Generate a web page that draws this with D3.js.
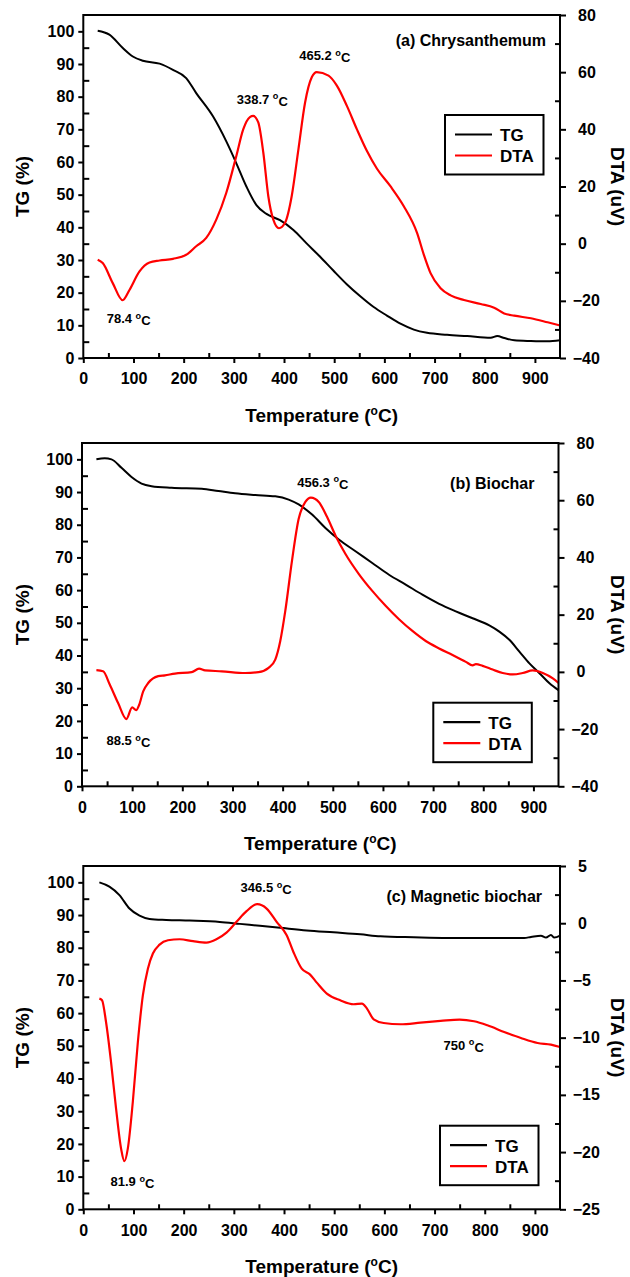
<!DOCTYPE html>
<html>
<head>
<meta charset="utf-8">
<script src="https://cdn.jsdelivr.net/npm/d3@7"></script>
<style>
  html, body { margin: 0; padding: 0; background: #fff; }
  svg { display: block; }
  text { font-family: "Liberation Sans", Arial, sans-serif; font-weight: bold; fill: #000; }
</style>
</head>
<body>
<svg id="chart" width="630" height="1277"></svg>
<script>
// ---- (a) Chrysanthemum ----
const chrysTempTG = [28.7, 52, 78.7, 98.7, 118.7, 152, 178.7, 205, 225, 258.7, 285, 305, 325, 345, 365, 392, 418.7, 445, 472, 498.7, 525, 552, 578.7, 605, 632, 658.7, 685, 725, 765, 812, 825, 839, 859, 892, 925, 950];
const chrysTG     = [100.2, 99, 94.9, 92.3, 91.0, 90.1, 88.2, 85.7, 81.1, 73.9, 66.3, 59.6, 52.5, 46.8, 44.1, 42.2, 39.2, 35.1, 31.0, 26.7, 22.6, 18.9, 15.6, 13.0, 10.5, 8.7, 7.7, 7.1, 6.7, 6.2, 6.7, 6.1, 5.4, 5.2, 5.1, 5.4];
const chrysTempDTA = [28.7, 38.7, 58.7, 78.4, 92, 112, 132, 152, 178.7, 205, 225, 245, 265, 285, 305, 318.7, 332, 338.7, 348.7, 358.7, 368.7, 378.7, 390, 402, 415.3, 428.7, 442, 455.3, 465.2, 488.7, 505.3, 525.3, 545.3, 565.3, 585.3, 612, 638.7, 665.3, 678.7, 692, 712, 732, 758.7, 792, 818.7, 838.7, 858.7, 892, 925.3, 950];
const chrysDTA     = [-5.6, -6.8, -13.8, -19.8, -16.2, -9.7, -6.6, -5.9, -5.3, -3.9, -0.9, 2.0, 8.4, 17.8, 30.7, 40.0, 44.3, 44.7, 42.4, 31.9, 16.6, 8.4, 5.4, 7.3, 16.6, 33.0, 49.4, 58.2, 60.0, 58.8, 55.3, 48.2, 40.0, 32.4, 26.2, 20.1, 13.1, 3.7, -3.9, -10.3, -15.6, -18.1, -19.7, -21.1, -22.4, -24.4, -25.2, -26.1, -27.5, -28.6];
const chrysPeaks = [78.4, 338.7, 465.2];

// ---- (b) Biochar ----
const biocharTempTG = [28.7, 45.3, 58.7, 78.7, 98.7, 118.7, 138.7, 178.7, 238.7, 272, 305.3, 345.3, 385.3, 412, 432, 458.7, 485.3, 512, 545.3, 578.7, 612, 645.3, 678.7, 712, 745.3, 778.7, 812, 832, 852, 872, 892, 912, 932, 950];
const biocharTG     = [100, 100.3, 100, 97.4, 94.6, 92.6, 91.8, 91.3, 91.0, 90.3, 89.6, 89.1, 88.7, 87.7, 86.2, 83.1, 79.0, 75.5, 71.9, 68.3, 64.7, 61.7, 58.6, 55.8, 53.5, 51.4, 49.2, 47.3, 44.8, 41.2, 37.6, 34.6, 31.5, 29.4];
const biocharTempDTA = [28.7, 42, 55.3, 72, 88.5, 100, 108, 114, 122, 132, 152, 165.3, 185.3, 218.7, 233.3, 245.3, 278.7, 325.3, 352, 372, 385.3, 395.3, 405.3, 418.7, 432, 445.3, 456.3, 472, 488.7, 505.3, 525.3, 552, 578.7, 605.3, 632, 658.7, 685.3, 712, 738.7, 765.3, 778.7, 785.3, 798.7, 818.7, 838.7, 858.7, 878.7, 898.7, 918.7, 938.7, 950];
const biocharDTA     = [0.6, 0.2, -4.4, -10.9, -16.5, -12.4, -13.4, -11.5, -6.8, -3.9, -1.5, -1.2, -0.6, -0.1, 1.1, 0.5, 0.2, -0.4, -0.1, 1.4, 4.3, 10.8, 21.3, 38.9, 53.5, 59.4, 60.9, 59.4, 54.1, 47.7, 41.2, 34.2, 28.3, 23.1, 18.4, 14.3, 10.8, 8.2, 5.9, 3.5, 2.3, 2.7, 2.1, 0.8, -0.4, -0.9, -0.4, 0.5, -0.4, -2.3, -3.9];
const biocharPeaks = [88.5, 456.3];

// ---- (c) Magnetic biochar ----
const magTempTG = [32, 52, 72, 92, 112, 132, 165.3, 212, 272, 312, 352, 392, 445.3, 498.7, 552, 592, 658.7, 725.3, 792, 878.7, 892, 912, 922, 932, 938.7, 950];
const magTG     = [100, 98.7, 96.1, 92.0, 89.8, 88.8, 88.5, 88.3, 87.9, 87.3, 86.7, 86.1, 85.3, 84.7, 84.1, 83.5, 83.2, 83.0, 83.0, 83.0, 83.3, 83.7, 83.1, 83.9, 83.1, 83.7];
const magTempDTA = [32, 37.3, 45.3, 55.3, 65.3, 75.3, 81.9, 88.7, 98.7, 108.7, 118.7, 128.7, 138.7, 152, 168.7, 192, 218.7, 245.3, 265.3, 285.3, 305.3, 325.3, 346.5, 365.3, 385.3, 405.3, 418.7, 435.3, 452, 465.3, 485.3, 512, 538.7, 555.3, 565.3, 578.7, 598.7, 632, 672, 712, 750, 778.7, 805.3, 838.7, 872, 905.3, 932, 950];
const magDTA     = [-6.59, -6.73, -8.63, -12.13, -16.2, -19.7, -20.8, -19.7, -15.6, -10.4, -6.3, -3.97, -2.65, -1.87, -1.49, -1.4, -1.57, -1.69, -1.4, -0.82, 0.12, 1.05, 1.66, 1.28, 0.12, -1.05, -2.51, -3.97, -4.49, -5.19, -6.15, -6.73, -7.08, -7.03, -7.46, -8.40, -8.72, -8.83, -8.69, -8.54, -8.42, -8.57, -8.92, -9.50, -10.03, -10.47, -10.61, -10.82];
const magPeaks = [81.9, 346.5, 750];

// Axis tick values
const tempTicks = [0, 100, 200, 300, 400, 500, 600, 700, 800, 900];
const tempMinor = [50, 150, 250, 350, 450, 550, 650, 750, 850];
const tgTicks = [0, 10, 20, 30, 40, 50, 60, 70, 80, 90, 100];
const tgMinor = [5, 15, 25, 35, 45, 55, 65, 75, 85, 95];
const dtaTicksWide = [-40, -20, 0, 20, 40, 60, 80];
const dtaMinorWide = [-30, -10, 10, 30, 50, 70];
const dtaTicksNarrow = [-25, -20, -15, -10, -5, 0, 5];
const dtaMinorNarrow = [-22.5, -17.5, -12.5, -7.5, -2.5, 2.5];

const zip = (xs, ys) => xs.map((x, i) => [x, ys[i]]);

const panels = [
  {
    title: "(a) Chrysanthemum",
    left: 83.3, right: 560, top: 15, bottom: 358,
    tg: zip(chrysTempTG, chrysTG), dta: zip(chrysTempDTA, chrysDTA),
    dtaDomain: [-40, 80], dtaTicks: dtaTicksWide, dtaMinor: dtaMinorWide,
    peaks: chrysPeaks, labelOffsets: [[6, 23], [9, -12], [8, -12]],
    titleDx: -14, titleDy: 31,
    legend: { x: 445, y: 115 }
  },
  {
    title: "(b) Biochar",
    left: 82, right: 558.5, top: 443, bottom: 786.3,
    tg: zip(biocharTempTG, biocharTG), dta: zip(biocharTempDTA, biocharDTA),
    dtaDomain: [-40, 80], dtaTicks: dtaTicksWide, dtaMinor: dtaMinorWide,
    peaks: biocharPeaks, labelOffsets: [[2, 26], [12, -11]],
    titleDx: -24, titleDy: 46,
    legend: { x: 433.3, y: 702.7 }
  },
  {
    title: "(c) Magnetic biochar",
    left: 83.3, right: 560, top: 866, bottom: 1209.3,
    tg: zip(magTempTG, magTG), dta: zip(magTempDTA, magDTA),
    dtaDomain: [-25, 5], dtaTicks: dtaTicksNarrow, dtaMinor: dtaMinorNarrow,
    peaks: magPeaks, labelOffsets: [[8, 25], [9, -12], [4, 30]],
    titleDx: -18, titleDy: 36,
    legend: { x: 440, y: 1125.7 }
  }
];

const svg = d3.select("#chart");
const AXW = 2;

function degLabel(sel, value) {
  sel.append("tspan").text(value + " ");
  sel.append("tspan").attr("font-size", "0.7em").attr("dy", "-0.5em").text("o");
  sel.append("tspan").attr("dy", "0.5em").text("C");
}

panels.forEach(p => {
  const g = svg.append("g");
  const x = d3.scaleLinear().domain([0, 950]).range([p.left, p.right]);
  const yTG = d3.scaleLinear().domain([0, 105]).range([p.bottom, p.top]);
  const yDTA = d3.scaleLinear().domain(p.dtaDomain).range([p.bottom, p.top]);

  // Curves
  const lineTG = d3.line().x(d => x(d[0])).y(d => yTG(d[1])).curve(d3.curveMonotoneX);
  const lineDTA = d3.line().x(d => x(d[0])).y(d => yDTA(d[1])).curve(d3.curveMonotoneX);
  g.append("path").attr("d", lineTG(p.tg)).attr("fill", "none").attr("stroke", "#000").attr("stroke-width", 2);
  g.append("path").attr("d", lineDTA(p.dta)).attr("fill", "none").attr("stroke", "#ff0000").attr("stroke-width", 2.2);

  // Frame: bottom, left, top and right (DTA axis)
  g.append("rect").attr("x", p.left).attr("y", p.top)
    .attr("width", p.right - p.left).attr("height", p.bottom - p.top)
    .attr("fill", "none").attr("stroke", "#000").attr("stroke-width", AXW);

  // Bottom axis: major ticks outward, minor inward
  const bottomAxis = d3.axisBottom(x).tickValues(tempTicks).tickSizeInner(5).tickSizeOuter(0).tickPadding(10);
  const gb = g.append("g").attr("transform", `translate(0,${p.bottom})`).call(bottomAxis);
  gb.select(".domain").remove();
  gb.selectAll("line").attr("stroke-width", AXW);
  gb.selectAll("text").attr("font-size", 16).attr("font-family", null).attr("dy", "0.71em");
  const bMinor = d3.axisBottom(x).tickValues(tempMinor).tickSize(-5).tickFormat("");
  const gbm = g.append("g").attr("transform", `translate(0,${p.bottom})`).call(bMinor);
  gbm.select(".domain").remove();
  gbm.selectAll("line").attr("stroke-width", AXW);

  // Left TG axis
  const leftAxis = d3.axisLeft(yTG).tickValues(tgTicks).tickSizeInner(5).tickSizeOuter(0).tickPadding(4);
  const gl = g.append("g").attr("transform", `translate(${p.left},0)`).call(leftAxis);
  gl.select(".domain").remove();
  gl.selectAll("line").attr("stroke-width", AXW);
  gl.selectAll("text").attr("font-size", 16).attr("font-family", null);
  const lMinor = d3.axisLeft(yTG).tickValues(tgMinor).tickSize(-6).tickFormat("");
  const glm = g.append("g").attr("transform", `translate(${p.left},0)`).call(lMinor);
  glm.select(".domain").remove();
  glm.selectAll("line").attr("stroke-width", AXW);

  // Right DTA axis (digits aligned, minus sign hanging to the left)
  const rightAxis = d3.axisRight(yDTA).tickValues(p.dtaTicks).tickSizeInner(6).tickSizeOuter(0).tickPadding(12);
  const gr = g.append("g").attr("transform", `translate(${p.right},0)`).call(rightAxis);
  gr.select(".domain").remove();
  gr.selectAll("line").attr("stroke-width", AXW);
  gr.selectAll("text").attr("font-size", 16).attr("font-family", null)
    .attr("dx", d => d < 0 ? -5.3 : 0);
  const rMinor = d3.axisRight(yDTA).tickValues(p.dtaMinor).tickSize(-5).tickFormat("");
  const grm = g.append("g").attr("transform", `translate(${p.right},0)`).call(rMinor);
  grm.select(".domain").remove();
  grm.selectAll("line").attr("stroke-width", AXW);

  // Axis titles
  g.append("text").attr("transform", `translate(28.5,${(p.top + p.bottom) / 2}) rotate(-90)`)
    .attr("text-anchor", "middle").attr("font-size", 19).text("TG (%)");
  g.append("text").attr("transform", `translate(611,${(p.top + p.bottom) / 2}) rotate(90)`)
    .attr("text-anchor", "middle").attr("font-size", 19).text("DTA (uV)");
  const xt = g.append("text").attr("x", (p.left + p.right) / 2).attr("y", p.bottom + 64)
    .attr("text-anchor", "middle").attr("font-size", 19);
  xt.append("tspan").text("Temperature (");
  xt.append("tspan").attr("font-size", 12).attr("dy", -7).text("o");
  xt.append("tspan").attr("dy", 7).text("C)");

  // Panel title
  g.append("text").attr("x", p.right + p.titleDx).attr("y", p.top + p.titleDy)
    .attr("text-anchor", "end").attr("font-size", 16).text(p.title);

  // Peak temperature labels, anchored on the DTA curve at each peak
  const dtaAt = t => p.dta.find(d => d[0] === t);
  p.peaks.forEach((t, i) => {
    const pt = dtaAt(t);
    const [dx, dy] = p.labelOffsets[i];
    const lab = g.append("text").attr("x", x(t) + dx).attr("y", yDTA(pt[1]) + dy)
      .attr("text-anchor", "middle").attr("font-size", 13);
    degLabel(lab, t);
  });

  // Legend
  const L = p.legend;
  const lg = g.append("g").attr("transform", `translate(${L.x},${L.y})`);
  lg.append("rect").attr("width", 98.5).attr("height", 59.5)
    .attr("fill", "#fff").attr("stroke", "#000").attr("stroke-width", 2);
  [["TG", "#000", 19.5], ["DTA", "#ff0000", 40.5]].forEach(([name, col, yy]) => {
    lg.append("line").attr("x1", 10).attr("x2", 47).attr("y1", yy).attr("y2", yy)
      .attr("stroke", col).attr("stroke-width", 2.2);
    lg.append("text").attr("x", 55).attr("y", yy + 6.5).attr("font-size", 17).text(name);
  });
});
</script>
</body>
</html>
